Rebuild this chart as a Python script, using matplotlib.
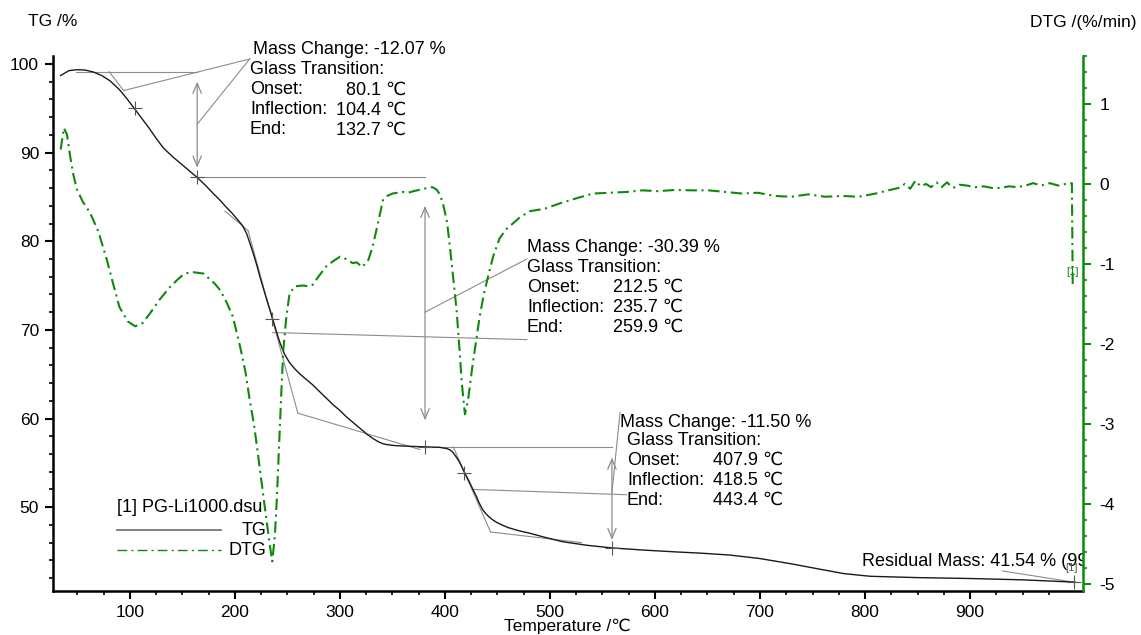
import matplotlib.pyplot as plt
from matplotlib.ticker import MultipleLocator, FixedLocator

plt.rcParams['font.family'] = ['Liberation Sans', 'DejaVu Sans']
plt.rcParams['axes.unicode_minus'] = False

# TG curve, mass % vs temperature
tg_temp = [34, 38, 42, 49, 57, 65, 73, 81, 90, 97,
           104, 111, 118, 125, 132, 141, 150, 157, 164, 172,
           180, 186, 192, 197, 202, 207, 211, 215, 218, 221,
           224, 227, 230, 233, 236, 240, 243, 247, 252, 257,
           262, 268, 274, 280, 287, 293, 300, 306, 313, 320,
           326, 332, 337, 341, 345, 352, 360, 370, 381, 395,
           402, 405, 407, 409, 411, 413, 415, 417, 419, 421,
           423, 425, 427, 430, 432, 434, 436, 439, 442, 445,
           449, 455, 460, 470, 481, 495, 512, 535, 559, 590,
           620, 645, 671, 700, 730, 757, 780, 805, 850, 900,
           950, 1000]
tg_mass = [98.70, 98.98, 99.25, 99.35, 99.32, 99.10, 98.70, 98.10, 97.10, 96.10,
           95.00, 93.90, 92.80, 91.60, 90.50, 89.50, 88.60, 87.90, 87.20, 86.30,
           85.30, 84.60, 83.80, 83.20, 82.50, 81.80, 80.90, 79.50, 78.40, 77.20,
           75.90, 74.70, 73.50, 72.40, 71.20, 69.60, 68.50, 67.30, 66.30, 65.60,
           65.00, 64.40, 63.80, 63.10, 62.30, 61.60, 60.90, 60.20, 59.50, 58.80,
           58.20, 57.70, 57.35, 57.15, 57.05, 56.95, 56.90, 56.85, 56.80, 56.75,
           56.60, 56.45, 56.25, 55.95, 55.60, 55.25, 54.80, 54.30, 53.80, 53.35,
           52.90, 52.40, 51.90, 51.20, 50.60, 50.15, 49.70, 49.25, 48.90, 48.60,
           48.30, 47.95, 47.70, 47.35, 47.05, 46.60, 46.10, 45.70, 45.40, 45.15,
           44.95, 44.80, 44.60, 44.20, 43.60, 43.00, 42.50, 42.20, 42.05, 41.95,
           41.80, 41.54]

# DTG curve, %/min vs temperature
dtg_temp = [34, 37, 40, 43, 46, 49.5, 55, 62, 70, 78,
            84, 90, 98, 105, 112, 119, 128, 138, 145, 151,
            158, 164, 170, 175, 181, 186, 192, 198, 205, 210,
            214, 218, 221, 225, 228, 231, 233, 235.5, 238, 240,
            242, 244, 246, 249, 252, 257, 265, 270, 274, 280,
            287, 293, 300, 306, 312, 316, 321, 327, 331, 336,
            341, 345, 350, 355, 360, 365, 370, 377, 383, 388,
            392, 395, 398, 402, 405, 408, 411, 414, 416, 419,
            422, 426, 430, 433, 437, 441, 446, 452, 458, 465,
            472, 481, 495, 510, 525, 541, 556, 573, 588, 603,
            619, 635, 651, 667, 683, 698, 714, 730, 746, 762,
            778, 794, 810, 822, 832, 838, 843, 848, 853, 858,
            863, 868, 873, 878, 884, 890, 897, 905, 913, 921,
            929, 937, 945, 953, 960, 968, 976, 984, 991, 997,
            997.8]
dtg_rate = [0.43, 0.70, 0.62, 0.35, 0.12, -0.07, -0.22, -0.36, -0.60, -0.95,
            -1.25, -1.54, -1.72, -1.78, -1.74, -1.62, -1.45, -1.29, -1.20, -1.13,
            -1.10, -1.11, -1.12, -1.18, -1.25, -1.33, -1.48, -1.66, -2.04, -2.35,
            -2.70, -3.00, -3.29, -3.70, -4.00, -4.30, -4.50, -4.72, -4.40, -3.90,
            -3.26, -2.65, -2.08, -1.65, -1.37, -1.28, -1.27, -1.28, -1.26, -1.15,
            -1.03, -0.97, -0.91, -0.94, -0.99, -0.98, -1.04, -0.95, -0.79, -0.50,
            -0.20, -0.15, -0.12, -0.11, -0.10, -0.11, -0.09, -0.07, -0.05, -0.04,
            -0.07, -0.13, -0.24, -0.48, -0.82, -1.20, -1.57, -2.10, -2.49, -2.88,
            -2.70, -2.29, -1.93, -1.66, -1.38, -1.16, -0.90, -0.68, -0.57, -0.49,
            -0.41, -0.34, -0.31, -0.24, -0.18, -0.12, -0.11, -0.10, -0.08, -0.09,
            -0.075, -0.08, -0.08, -0.10, -0.12, -0.11, -0.15, -0.16, -0.13, -0.16,
            -0.15, -0.16, -0.12, -0.08, -0.05, 0.00, -0.06, 0.04, -0.03, 0.00,
            -0.04, 0.02, -0.04, 0.02, -0.05, -0.01, -0.02, -0.04, -0.03, -0.05,
            -0.05, -0.03, -0.04, -0.02, 0.01, -0.02, 0.01, -0.02, 0.00, 0.01,
            -1.25]

# evaluation results
mass_changes = ['-12.07', '-30.39', '-11.50']
onsets = [80.1, 212.5, 407.9]
inflections = [104.4, 235.7, 418.5]
ends = [132.7, 259.9, 443.4]
step_levels = [99.13, 87.2, 56.8, 45.4]
inflection_mass = [95.0, 71.2, 53.8]
residual_mass = 41.54
residual_temp = 998.6

green = '#0c8a0c'
gray = '#8c8c8c'

fig = plt.figure(figsize=(11.41, 6.35), dpi=100)
ax = fig.add_axes([53 / 1141, 44 / 635, 1030 / 1141, 535 / 635])
ax2 = ax.twinx()

ax.plot(tg_temp, tg_mass, color='#1a1a1a', lw=1.0, zorder=4)
ax2.plot(dtg_temp, dtg_rate, color=green, lw=1.5, dashes=(5.5, 2.2, 1, 2.2))

ax.set_xlim(26.7, 1007.6)
ax.set_ylim(40.54, 100.9)
ax2.set_ylim(-5.09, 1.6)

for s in ['top', 'right']:
    ax.spines[s].set_visible(False)
for s in ['top', 'left', 'bottom']:
    ax2.spines[s].set_visible(False)
ax.spines['left'].set_linewidth(1.8)
ax.spines['bottom'].set_linewidth(1.8)
ax2.spines['right'].set_linewidth(1.8)
ax2.spines['right'].set_color(green)

ax.xaxis.set_major_locator(FixedLocator(range(100, 1000, 100)))
ax.xaxis.set_minor_locator(FixedLocator(range(50, 1000, 25)))
ax.yaxis.set_major_locator(MultipleLocator(10))
ax.yaxis.set_minor_locator(MultipleLocator(2))
ax2.yaxis.set_major_locator(MultipleLocator(1))
ax2.yaxis.set_minor_locator(MultipleLocator(0.2))
ax.tick_params(which='major', direction='out', length=6, width=1.5, labelsize=12.5, pad=4)
ax.tick_params(which='minor', direction='out', length=3, width=1.2)
ax2.tick_params(which='major', direction='out', length=6, width=1.5, color=green, labelsize=12.5, pad=6)
ax2.tick_params(which='minor', direction='out', length=3, width=1.2, color=green)


def seg(x0, y0, x1, y1):
    ax.plot([x0, x1], [y0, y1], color=gray, lw=0.8, zorder=2)


def arrow(x, y0, y1):
    ax.annotate('', xy=(x, y0), xytext=(x, y1),
                arrowprops=dict(arrowstyle='<->,head_length=0.6,head_width=0.25',
                                color=gray, lw=0.9, shrinkA=0, shrinkB=0, mutation_scale=12))


def block(i, x, y, title_dx=0, gap1=20):
    pt = 0.72
    ax.annotate('Mass Change: %s %%' % mass_changes[i], xy=(x, y), xytext=(title_dx * pt, 0),
                textcoords='offset points', va='center', fontsize=13, annotation_clip=False)
    rows = [('Glass Transition:', ''), ('Onset:', '%.1f ℃' % onsets[i]),
            ('Inflection:', '%.1f ℃' % inflections[i]), ('End:', '%.1f ℃' % ends[i])]
    for k, (lab, val) in enumerate(rows):
        dy = -(gap1 + 20 * k) * pt
        ax.annotate(lab, xy=(x, y), xytext=(0, dy), textcoords='offset points',
                    va='center', fontsize=13, annotation_clip=False)
        if val:
            ax.annotate(val, xy=(x, y), xytext=(156 * pt, dy), textcoords='offset points',
                        va='center', ha='right', fontsize=13, annotation_clip=False)


# step 1
seg(49, step_levels[0], 164, step_levels[0])
seg(onsets[0], step_levels[0], 94, 97.0)
seg(94, 97.0, 214, 100.56)
seg(164, 93.2, 214, 100.56)
arrow(164, 98.0, 88.3)
seg(164, step_levels[1], 381, step_levels[1])
block(0, 214.3, 101.58, title_dx=3)

# step 2
seg(190.5, 83.4, onsets[1], 81.2)
seg(onsets[1], 81.2, ends[1], 60.6)
seg(ends[1], 60.6, 376, 56.5)
seg(inflections[1], 69.7, 478, 68.9)
arrow(381, 84.0, 59.8)
seg(381, 72.0, 478, 78.0)
seg(381, step_levels[2], 559, step_levels[2])
block(1, 478.1, 79.28)

# step 3
seg(onsets[2], step_levels[2], ends[2], 47.2)
seg(ends[2], 47.2, 530, 46.0)
seg(427, 52.0, 573, 51.4)
arrow(559, 55.6, 46.3)
seg(559, 51.6, 566.7, 60.7)
block(2, 573.3, 59.6, title_dx=-7, gap1=18)

# inflection and level crosses
ax.plot(inflections, inflection_mass, ls='none', marker='+', ms=9.5, mew=0.8, color='#555555', zorder=5)
ax.plot([164, 381, 559, residual_temp], step_levels[1:] + [residual_mass + 0.05],
        ls='none', marker='+', ms=9.5, mew=0.8, color='#555555', zorder=5)

# residual mass
seg(931, 42.8, residual_temp, residual_mass)
ax.text(797.1, 43.92, 'Residual Mass: %.2f %% (%.1f ℃)' % (residual_mass, residual_temp),
        fontsize=13, va='center', clip_on=True)
ax.text(997, 43.1, '[1]', fontsize=8, color='#555555', ha='center', va='center')
ax2.text(998, -1.1, '[1]', fontsize=8, color=green, ha='center', va='center')

# legend
ax.text(0.062, 0.157, '[1] PG-Li1000.dsu', transform=ax.transAxes, fontsize=13, va='center')
ax.plot([0.062, 0.163], [0.114, 0.114], transform=ax.transAxes, color='#777777', lw=1.3)
ax.plot([0.062, 0.163], [0.0766, 0.0766], transform=ax.transAxes, color=green, lw=1.0,
        dashes=(7, 3, 1.5, 3))
ax.text(0.207, 0.114, 'TG', transform=ax.transAxes, fontsize=13, va='center', ha='right')
ax.text(0.207, 0.0766, 'DTG', transform=ax.transAxes, fontsize=13, va='center', ha='right')

fig.text(28 / 1141, 1 - 22 / 635, 'TG /%', fontsize=12.5, va='center', ha='left')
fig.text(1136 / 1141, 1 - 22 / 635, 'DTG /(%/min)', fontsize=12.5, va='center', ha='right')
fig.text(567 / 1141, 1 - 626 / 635, 'Temperature /℃', fontsize=12.5, va='center', ha='center')

fig.savefig('out.png', dpi=100)
